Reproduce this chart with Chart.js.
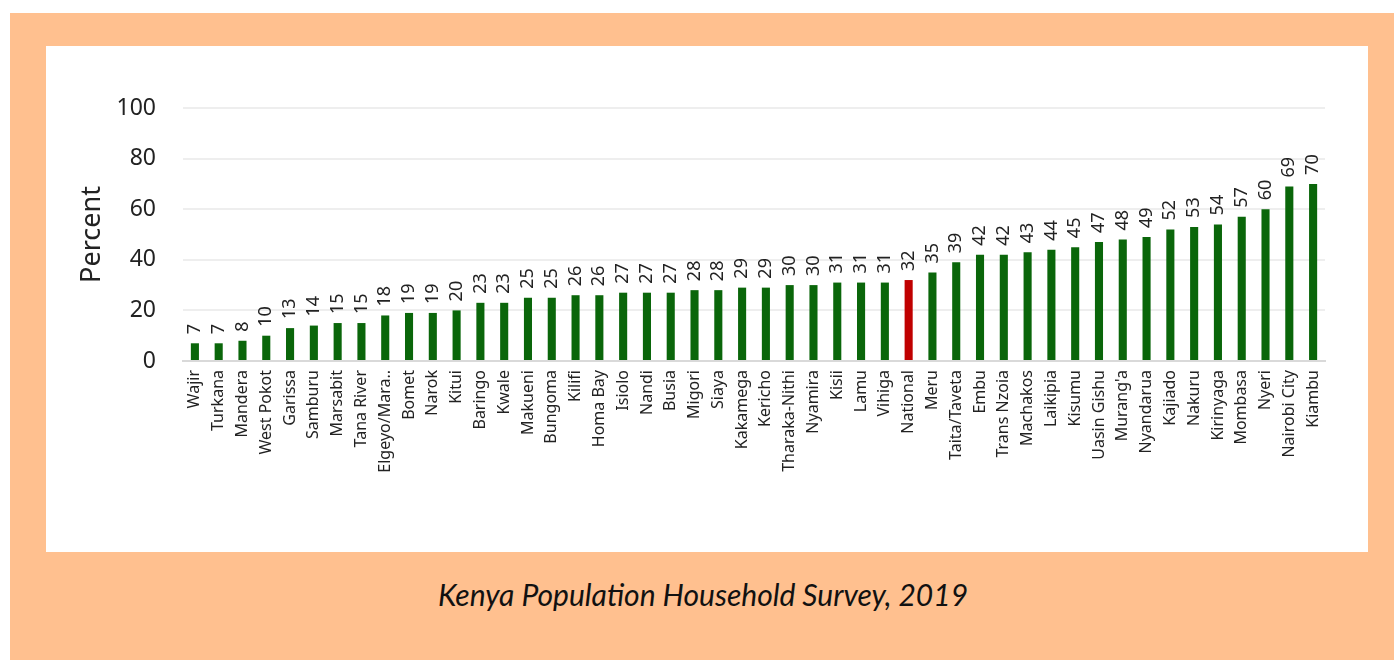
<!DOCTYPE html>
<html>
<head>
<meta charset="utf-8">
<script src="https://cdn.jsdelivr.net/npm/chart.js@4"></script>
<style>
  html, body { margin: 0; padding: 0; background: #ffffff; }
  body { width: 1394px; height: 660px; position: relative; overflow: hidden; }
  #frame { position: absolute; left: 10px; top: 13px; width: 1384px; height: 647px; background: #ffc08f; }
  #panel { position: absolute; left: 46px; top: 46px; width: 1322px; height: 506px; background: #ffffff; }
  #caption { position: absolute; left: 0; width: 1406px; top: 576px; text-align: center;
             font-family: Lato, "Open Sans", sans-serif; font-style: italic; font-size: 30px; color: #111; }
</style>
</head>
<body>
<div id="frame"></div>
<div id="panel"><canvas id="kenyaChart" width="1322" height="506"></canvas></div>
<div id="caption">Kenya Population Household Survey, 2019</div>
<script>
// 카운티 이름 (x축)
const counties = ['Wajir', 'Turkana', 'Mandera', 'West Pokot', 'Garissa', 'Samburu', 'Marsabit', 'Tana River',
    'Elgeyo/Mara..', 'Bomet', 'Narok', 'Kitui', 'Baringo', 'Kwale', 'Makueni', 'Bungoma', 'Kilifi', 'Homa Bay',
    'Isiolo', 'Nandi', 'Busia', 'Migori', 'Siaya', 'Kakamega', 'Kericho', 'Tharaka-Nithi', 'Nyamira', 'Kisii',
    'Lamu', 'Vihiga', 'National', 'Meru', 'Taita/Taveta', 'Embu', 'Trans Nzoia', 'Machakos', 'Laikipia', 'Kisumu',
    'Uasin Gishu', "Murang'a", 'Nyandarua', 'Kajiado', 'Nakuru', 'Kirinyaga', 'Mombasa', 'Nyeri', 'Nairobi City', 'Kiambu'];

// 퍼센트 값
const percents = [7, 7, 8, 10, 13, 14, 15, 15, 18, 19, 19, 20, 23, 23, 25, 25, 26, 26, 27, 27, 27, 28, 28, 29, 29,
    30, 30, 31, 31, 31, 32, 35, 39, 42, 42, 43, 44, 45, 47, 48, 49, 52, 53, 54, 57, 60, 69, 70];

// y축 눈금
const yTicks = [0, 20, 40, 60, 80, 100];

const highlight = 'National';
const barColors = counties.map(c => c === highlight ? '#c00000' : '#0a660a');

// 막대 위에 세로로 값 표시
const valueLabels = {
    id: 'valueLabels',
    afterDatasetsDraw(chart) {
        const ctx = chart.ctx;
        const meta = chart.getDatasetMeta(0);
        ctx.save();
        ctx.font = '18px "Noto Sans", sans-serif';
        ctx.fillStyle = '#222';
        ctx.textAlign = 'left';
        ctx.textBaseline = 'middle';
        meta.data.forEach((bar, i) => {
            ctx.save();
            ctx.translate(bar.x, bar.y - 9);
            ctx.rotate(-Math.PI / 2);
            ctx.fillText(String(percents[i]), 0, 0);
            ctx.restore();
        });
        ctx.restore();
    }
};

new Chart(document.getElementById('kenyaChart'), {
    type: 'bar',
    data: {
        labels: counties,
        datasets: [{
            data: percents,
            backgroundColor: barColors,
            barPercentage: 0.34,
            categoryPercentage: 1.0
        }]
    },
    options: {
        responsive: false,
        animation: false,
        layout: { padding: { top: 62, right: 43, bottom: 14, left: 0 } },
        plugins: { legend: { display: false }, tooltip: { enabled: false } },
        scales: {
            x: {
                grid: { display: false, drawTicks: false },
                border: { color: '#d9d9d9', width: 2 },
                ticks: {
                    autoSkip: false,
                    minRotation: 90,
                    maxRotation: 90,
                    padding: 9,
                    color: '#222',
                    font: { family: '"Noto Sans", sans-serif', size: 16 }
                },
                afterFit(axis) { axis.height = 177; }
            },
            y: {
                min: 0,
                max: 100,
                afterBuildTicks(axis) { axis.ticks = yTicks.map(v => ({ value: v })); },
                grid: { color: '#eeeeee', lineWidth: 2, drawTicks: false },
                border: { display: false },
                ticks: {
                    padding: 27,
                    color: '#222',
                    font: { family: '"Noto Sans", sans-serif', size: 23 }
                },
                title: {
                    display: true,
                    text: 'Percent',
                    color: '#222',
                    font: { family: '"Noto Sans", sans-serif', size: 27 },
                    padding: { top: 30, bottom: 0 }
                },
                afterFit(axis) { axis.width = 137; }
            }
        }
    },
    plugins: [valueLabels]
});
</script>
</body>
</html>
